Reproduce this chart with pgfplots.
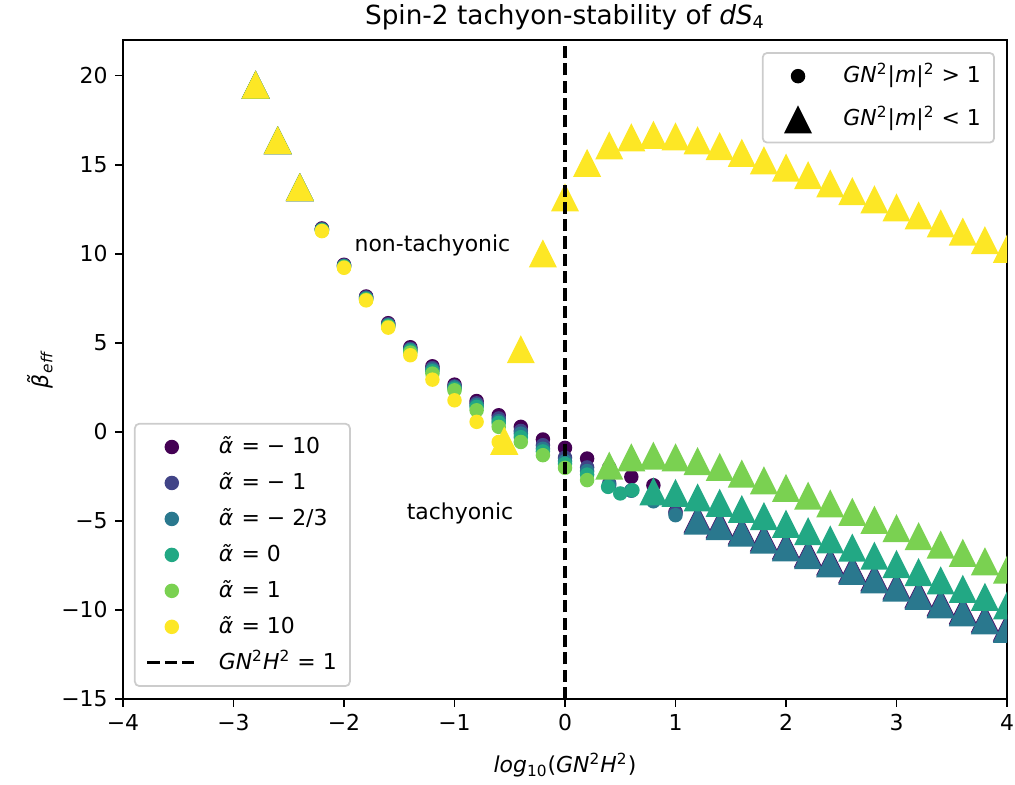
\documentclass[border=0pt]{standalone}
\usepackage{fontspec}
\setmainfont{DejaVu Sans}
\usepackage{pgfplots}
\pgfplotsset{compat=1.18}
\definecolor{va}{HTML}{440154}
\definecolor{vb}{HTML}{414487}
\definecolor{vc}{HTML}{2A788E}
\definecolor{vd}{HTML}{22A884}
\definecolor{ve}{HTML}{7AD151}
\definecolor{vf}{HTML}{FDE725}
\definecolor{lgedge}{HTML}{CCCCCC}
\pgfdeclareplotmark{mtri}{%
  \pgfpathmoveto{\pgfqpoint{0pt}{\pgfplotmarksize}}%
  \pgfpathlineto{\pgfqpoint{-\pgfplotmarksize}{-\pgfplotmarksize}}%
  \pgfpathlineto{\pgfqpoint{\pgfplotmarksize}{-\pgfplotmarksize}}%
  \pgfpathclose\pgfusepathqfill}
\pgfdeclareplotmark{mdot}{%
  \pgfpathcircle{\pgfpointorigin}{\pgfplotmarksize}\pgfusepathqfill}
\pgfplotsset{
  dots/.style={only marks, mark=mdot, mark size=3.3pt, color=#1, forget plot},
  tris/.style={only marks, mark=mtri, mark size=6.4pt, color=#1, forget plot},
  markleg/.style={legend image code/.code={\pgfpathrectangle{\pgfqpoint{0cm}{0cm}}{\pgfqpoint{0.78cm}{0cm}}\pgfusepath{use as bounding box}\draw[mark repeat=2,mark phase=2,##1] plot coordinates {(0cm,0cm) (0.39cm,0cm) (0.78cm,0cm)};}},
  lineleg/.style={legend image code/.code={\draw[##1] (0cm,0cm) -- (0.78cm,0cm);}},
  mylegend/.style={
    legend cell align=left,
    legend style={draw=lgedge, line width=0.8pt, rounded corners=2pt, fill=white,
      font=\fontsize{10}{12}\selectfont, inner xsep=5pt, inner ysep=3pt, row sep=1.2pt, column sep=8.6pt,
      nodes={inner xsep=1pt, inner ysep=2pt, text height=8.6pt, text depth=2.6pt}},
  },
}
\begin{document}
\begin{tikzpicture}
\begin{axis}[
  name=main,
  scale only axis, width=403.1pt, height=300.5pt,
  xmin=-4, xmax=4, ymin=-15, ymax=22,
  xtick={-4,-3,-2,-1,0,1,2,3,4},
  xticklabels={−4,−3,−2,−1,0,1,2,3,4},
  ytick={-15,-10,-5,0,5,10,15,20},
  yticklabels={−15,−10,−5,0,5,10,15,20},
  tick pos=left, tick align=outside,
  major tick length=3.5pt,
  every tick/.style={black, line width=0.8pt},
  axis line style={line width=0.8pt},
  ticklabel style={font=\fontsize{10}{12}\selectfont},
  clip marker paths=true,
  title={Spin-2 tachyon-stability of \textit{dS}\textsubscript{4}},
  title style={font=\fontsize{12}{14}\selectfont, at={(axis description cs:0.5,1)}, anchor=base, yshift=1.2pt},
  xlabel={\textit{log}\textsubscript{10}(\textit{GN}\textsuperscript{2}\textit{H}\textsuperscript{2})},
  xlabel style={font=\fontsize{10}{12}\selectfont, at={([yshift=-30.1pt]axis description cs:0.5,0)}, anchor=center},
  ylabel={\textit{β̃}\textsubscript{\textit{eff}}},
  ylabel style={font=\fontsize{10}{12}\selectfont, at={([xshift=-37.8pt]axis description cs:0,0.5)}, anchor=center, rotate=0},
  mylegend,
  legend style={at={(0.0124,0.0183)}, anchor=south west},
  markleg,
]
\addlegendimage{only marks, mark=mdot, mark size=3.3pt, color=va}
\addlegendentry{\textit{α̃} = − 10}
\addlegendimage{only marks, mark=mdot, mark size=3.3pt, color=vb}
\addlegendentry{\textit{α̃} = − 1}
\addlegendimage{only marks, mark=mdot, mark size=3.3pt, color=vc}
\addlegendentry{\textit{α̃} = − 2/3}
\addlegendimage{only marks, mark=mdot, mark size=3.3pt, color=vd}
\addlegendentry{\textit{α̃} = 0}
\addlegendimage{only marks, mark=mdot, mark size=3.3pt, color=ve}
\addlegendentry{\textit{α̃} = 1}
\addlegendimage{only marks, mark=mdot, mark size=3.3pt, color=vf}
\addlegendentry{\textit{α̃} = 10}
\addlegendimage{black, line width=1.5pt, dash pattern=on 5.5pt off 2.4pt, lineleg}
\addlegendentry{\textit{GN}\textsuperscript{2}\textit{H}\textsuperscript{2} = 1}

% alpha = -10
\addplot[dots=va] coordinates {(-2.2,11.42) (-2.0,9.38) (-1.8,7.6) (-1.6,6.1) (-1.4,4.75) (-1.2,3.68) (-1.0,2.65) (-0.8,1.73) (-0.6,0.93) (-0.4,0.28) (-0.2,-0.43) (0,-0.9) (0.2,-1.5) (0.4,-2.0) (0.6,-2.53) (0.8,-3.0) (1.0,-4.5)};
\addplot[tris=va] coordinates {(-2.8,19.49) (-2.6,16.38) (-2.4,13.74) (1.2,-4.87) (1.4,-5.17) (1.6,-5.54) (1.8,-5.93) (2.0,-6.36) (2.2,-6.80) (2.4,-7.26) (2.6,-7.69) (2.8,-8.16) (3.0,-8.62) (3.2,-9.09) (3.4,-9.56) (3.6,-10.01) (3.8,-10.47) (4.0,-10.94)};
% alpha = -1
\addplot[dots=vb] coordinates {(-2.2,11.38) (-2.0,9.34) (-1.8,7.55) (-1.6,6.04) (-1.4,4.66) (-1.2,3.58) (-1.0,2.55) (-0.8,1.6) (-0.6,0.75) (-0.4,0.05) (-0.2,-0.75) (0,-1.45) (0.2,-2.0) (0.4,-2.9) (0.6,-3.3) (0.8,-3.7) (1.0,-4.55)};
\addplot[tris=vb] coordinates {(-2.8,19.49) (-2.6,16.38) (-2.4,13.74) (1.2,-4.93) (1.4,-5.23) (1.6,-5.60) (1.8,-5.99) (2.0,-6.42) (2.2,-6.86) (2.4,-7.32) (2.6,-7.75) (2.8,-8.22) (3.0,-8.68) (3.2,-9.15) (3.4,-9.62) (3.6,-10.07) (3.8,-10.53) (4.0,-11.00)};
% alpha = -2/3
\addplot[dots=vc] coordinates {(-2.2,11.35) (-2.0,9.31) (-1.8,7.5) (-1.6,5.99) (-1.4,4.6) (-1.2,3.5) (-1.0,2.5) (-0.8,1.5) (-0.6,0.6) (-0.4,-0.1) (-0.2,-0.95) (0,-1.65) (0.2,-2.2) (0.4,-3.0) (0.6,-3.3) (0.8,-3.9) (1.0,-4.68)};
\addplot[tris=vc] coordinates {(-2.8,19.49) (-2.6,16.38) (-2.4,13.74) (1.2,-4.99) (1.4,-5.29) (1.6,-5.66) (1.8,-6.05) (2.0,-6.48) (2.2,-6.92) (2.4,-7.38) (2.6,-7.81) (2.8,-8.28) (3.0,-8.74) (3.2,-9.21) (3.4,-9.68) (3.6,-10.13) (3.8,-10.59) (4.0,-11.06)};
% alpha = 0
\addplot[dots=vd] coordinates {(-2.2,11.33) (-2.0,9.28) (-1.8,7.46) (-1.6,5.95) (-1.4,4.55) (-1.2,3.4) (-1.0,2.42) (-0.8,1.4) (-0.6,0.5) (-0.4,-0.3) (-0.2,-1.1) (0,-1.8) (0.2,-2.4) (0.39,-3.09) (0.5,-3.46) (0.61,-3.28)};
\addplot[tris=vd] coordinates {(-2.8,19.49) (-2.6,16.38) (-2.4,13.74) (0.8,-3.34) (1.0,-3.43) (1.2,-3.68) (1.4,-3.98) (1.6,-4.33) (1.8,-4.73) (2.0,-5.16) (2.2,-5.58) (2.4,-6.04) (2.6,-6.5) (2.8,-6.95) (3.0,-7.42) (3.2,-7.87) (3.4,-8.34) (3.6,-8.81) (3.8,-9.26) (4.0,-9.74)};
% alpha = 1
\addplot[dots=ve] coordinates {(-2.2,11.30) (-2.0,9.25) (-1.8,7.42) (-1.6,5.90) (-1.4,4.45) (-1.2,3.27) (-1.0,2.33) (-0.8,1.21) (-0.6,0.28) (-0.4,-0.57) (-0.2,-1.31) (0,-2.02) (0.2,-2.71)};
\addplot[tris=ve] coordinates {(-2.8,19.49) (-2.6,16.38) (-2.4,13.74) (0.4,-1.90) (0.6,-1.43) (0.8,-1.34) (1.0,-1.43) (1.2,-1.64) (1.4,-1.97) (1.6,-2.34) (1.8,-2.72) (2.0,-3.15) (2.2,-3.58) (2.4,-4.02) (2.6,-4.49) (2.8,-4.94) (3.0,-5.41) (3.2,-5.86) (3.4,-6.33) (3.6,-6.79) (3.8,-7.27) (4.0,-7.74)};
% alpha = 10
\addplot[dots=vf] coordinates {(-2.2,11.27) (-2.0,9.21) (-1.8,7.38) (-1.6,5.85) (-1.4,4.3) (-1.2,2.93) (-1.0,1.77) (-0.8,0.56) (-0.6,-0.57)};
\addplot[tris=vf] coordinates {(-2.8,19.49) (-2.6,16.38) (-2.4,13.74) (-0.55,-0.5) (-0.4,4.64) (-0.2,10.02) (0,13.16) (0.2,15.1) (0.4,16.08) (0.6,16.54) (0.8,16.68) (1.0,16.59) (1.2,16.37) (1.4,16.05) (1.6,15.67) (1.8,15.25) (2.0,14.84) (2.2,14.41) (2.4,13.95) (2.6,13.52) (2.8,13.06) (3.0,12.6) (3.2,12.15) (3.4,11.7) (3.6,11.24) (3.8,10.76) (4.0,10.28)};

\addplot[black, line width=1.5pt, dash pattern=on 5.5pt off 2.4pt, forget plot] coordinates {(0,-15) (0,22)};

\node[font=\fontsize{10}{12}\selectfont] at (axis cs:-1.2,10.47) {non-tachyonic};
\node[font=\fontsize{10}{12}\selectfont] at (axis cs:-0.95,-4.56) {tachyonic};

\coordinate (bl) at (rel axis cs:0,0);
\coordinate (tr) at (rel axis cs:1,1);
\end{axis}
\begin{axis}[
  scale only axis, width=403.1pt, height=300.5pt,
  xmin=-4, xmax=4, ymin=-15, ymax=22,
  hide axis,
  mylegend,
  legend style={at={(0.9864,0.9817)}, anchor=north east, row sep=4.5pt},
  markleg,
]
\addlegendimage{only marks, mark=mdot, mark size=3.3pt, color=black}
\addlegendentry{\textit{GN}\textsuperscript{2}|\textit{m}|\textsuperscript{2} > 1}
\addlegendimage{only marks, mark=mtri, mark size=6.4pt, color=black}
\addlegendentry{\textit{GN}\textsuperscript{2}|\textit{m}|\textsuperscript{2} < 1}
\end{axis}
\pgfresetboundingbox
\path[use as bounding box] ([xshift=-56.1pt,yshift=-39.2pt]bl) rectangle ([xshift=3.65pt,yshift=18.24pt]tr);
\end{tikzpicture}
\end{document}
